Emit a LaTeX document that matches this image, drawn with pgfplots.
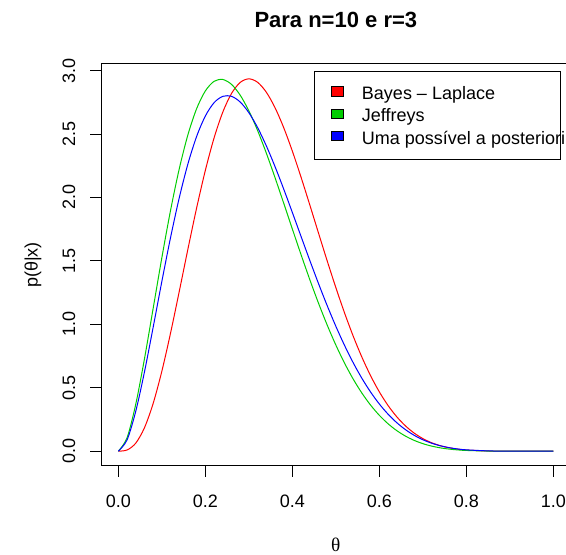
\documentclass[border=0pt]{standalone}
\usepackage{fontspec}
\setmainfont{Liberation Sans}
\newfontfamily\serifgr{Liberation Serif}
\usepackage{pgfplots}
\pgfplotsset{compat=1.18}
\definecolor{rred}{RGB}{255,0,0}
\definecolor{rgreen}{RGB}{0,205,0}
\definecolor{rblue}{RGB}{0,0,255}
\begin{document}
\begin{tikzpicture}
\begin{axis}[
  at={(75.75pt,66.75pt)}, anchor=south west,
  width=352.275pt, height=301.5pt, scale only axis,
  xmin=-0.04, xmax=1.04, ymin=-0.117, ymax=3.052,
  axis line style={black, line width=0.75pt},
  tick style={black, line width=0.75pt},
  tick align=outside, major tick length=8.25pt,
  xtick pos=bottom, ytick pos=left,
  xtick={0,0.2,0.4,0.6,0.8,1},
  xticklabels={0.0,0.2,0.4,0.6,0.8,1.0},
  ytick={0,0.5,1,1.5,2,2.5,3},
  yticklabels={0.0,0.5,1.0,1.5,2.0,2.5,3.0},
  ticklabel style={font=\fontsize{13.5}{16}\selectfont},
  xticklabel style={anchor=center, yshift=-18.5pt},
  yticklabel style={xshift=-15.75pt, rotate=90, anchor=center},
  xlabel={\serifgr\fontsize{14.5}{17}\selectfont θ},
  xlabel style={at={(rel axis cs:0.5,-0.195)}, anchor=center, inner sep=1pt},
  ylabel={\fontsize{13.5}{16}\selectfont p(θ|x)},
  ylabel style={at={(rel axis cs:-0.1448,0.5)}, anchor=center, rotate=0},
  every axis title shift=0pt,
  title={\bfseries\fontsize{16.5}{19}\selectfont Para n=10 e r=3},
  title style={at={(rel axis cs:0.5,1.0913)}, anchor=base},
  legend style={at={(rel axis cs:0.4535,0.9833)}, anchor=north west,
    draw=black, line width=0.75pt, fill=white,
    font=\fontsize{13.5}{16}\selectfont,
    nodes={inner sep=0pt, text height=11.5pt, text depth=2.2pt},
    inner xsep=12pt, inner ysep=9.7pt, row sep=3pt, column sep=13.5pt,
    legend cell align=left},
  legend image code/.code={\draw[#1, draw=black, line width=0.6pt, fill] (0pt,-2.0pt) rectangle (9.5pt,4.8pt);},
]
\addplot[color=rred, line width=0.75pt, smooth] coordinates {
(0,0) (0.02,0.009167) (0.04,0.063483) (0.06,0.18489) (0.08,0.37702) (0.10,0.63135)
(0.12,0.93217) (0.14,1.26022) (0.16,1.59547) (0.18,1.91907) (0.20,2.21459)
(0.22,2.46923) (0.24,2.67226) (0.26,2.81913) (0.28,2.90664) (0.30,2.93511)
(0.32,2.90794) (0.34,2.83021) (0.36,2.70856) (0.38,2.55076) (0.40,2.36490)
(0.42,2.15935) (0.44,1.94199) (0.46,1.72029) (0.48,1.50081) (0.50,1.28906)
(0.52,1.08966) (0.54,0.90575) (0.56,0.74013) (0.58,0.59374) (0.60,0.46714)
(0.62,0.35994) (0.64,0.27117) (0.66,0.19933) (0.68,0.14260) (0.70,0.099019)
(0.72,0.066478) (0.74,0.042962) (0.76,0.026576) (0.78,0.015625) (0.80,0.008651)
(0.85,0.001385) (0.90,0.000096) (0.95,0) (1,0)};
\addlegendentry{\makebox[137pt][l]{Bayes – Laplace}}
\addplot[color=rgreen, line width=0.75pt, smooth] coordinates {
(0,0) (0.02,0.10622) (0.04,0.37159) (0.06,0.72913) (0.08,1.12713) (0.10,1.52668)
(0.12,1.89964) (0.14,2.22673) (0.16,2.49591) (0.18,2.70091) (0.20,2.84000)
(0.22,2.91536) (0.24,2.92995) (0.26,2.89151) (0.28,2.80652) (0.30,2.68260)
(0.32,2.52803) (0.34,2.35055) (0.36,2.15748) (0.38,1.95565) (0.40,1.75096)
(0.42,1.54867) (0.44,1.35300) (0.46,1.16748) (0.48,0.99468) (0.50,0.83641)
(0.52,0.69386) (0.54,0.56733) (0.56,0.45708) (0.58,0.36236) (0.60,0.28240)
(0.62,0.21604) (0.64,0.16200) (0.66,0.11882) (0.68,0.08504) (0.70,0.05925)
(0.72,0.04003) (0.74,0.02612) (0.76,0.01637) (0.78,0.00980) (0.80,0.00555)
(0.85,0.000965) (0.90,0.000078) (0.95,0) (1,0)};
\addlegendentry{\makebox[137pt][l]{Jeffreys}}
\addplot[color=rblue, line width=0.75pt, smooth] coordinates {
(0,0) (0.02,0.08929) (0.04,0.31561) (0.06,0.62585) (0.08,0.97793) (0.10,1.33923)
(0.12,1.68522) (0.14,1.99823) (0.16,2.26629) (0.18,2.48216) (0.20,2.64241)
(0.22,2.74708) (0.24,2.79692) (0.26,2.79728) (0.28,2.75250) (0.30,2.66828)
(0.32,2.55125) (0.34,2.40781) (0.36,2.24431) (0.38,2.06691) (0.40,1.88117)
(0.42,1.69228) (0.44,1.50464) (0.46,1.32214) (0.48,1.14791) (0.50,0.984375)
(0.52,0.83344) (0.54,0.69612) (0.56,0.57345) (0.58,0.46531) (0.60,0.37159)
(0.62,0.29166) (0.64,0.22469) (0.66,0.16958) (0.68,0.12511) (0.70,0.090017)
(0.72,0.062953) (0.74,0.042629) (0.76,0.027816) (0.78,0.017383) (0.80,0.010322)
(0.85,0.002074) (0.90,0.000204) (0.95,0) (1,0)};
\addlegendentry{\makebox[137pt][l]{Uma possível a posteriori}}
\end{axis}
\pgfresetboundingbox
\path[use as bounding box] (0pt,0pt) rectangle (424.5pt,416.25pt);
\end{tikzpicture}
\end{document}
